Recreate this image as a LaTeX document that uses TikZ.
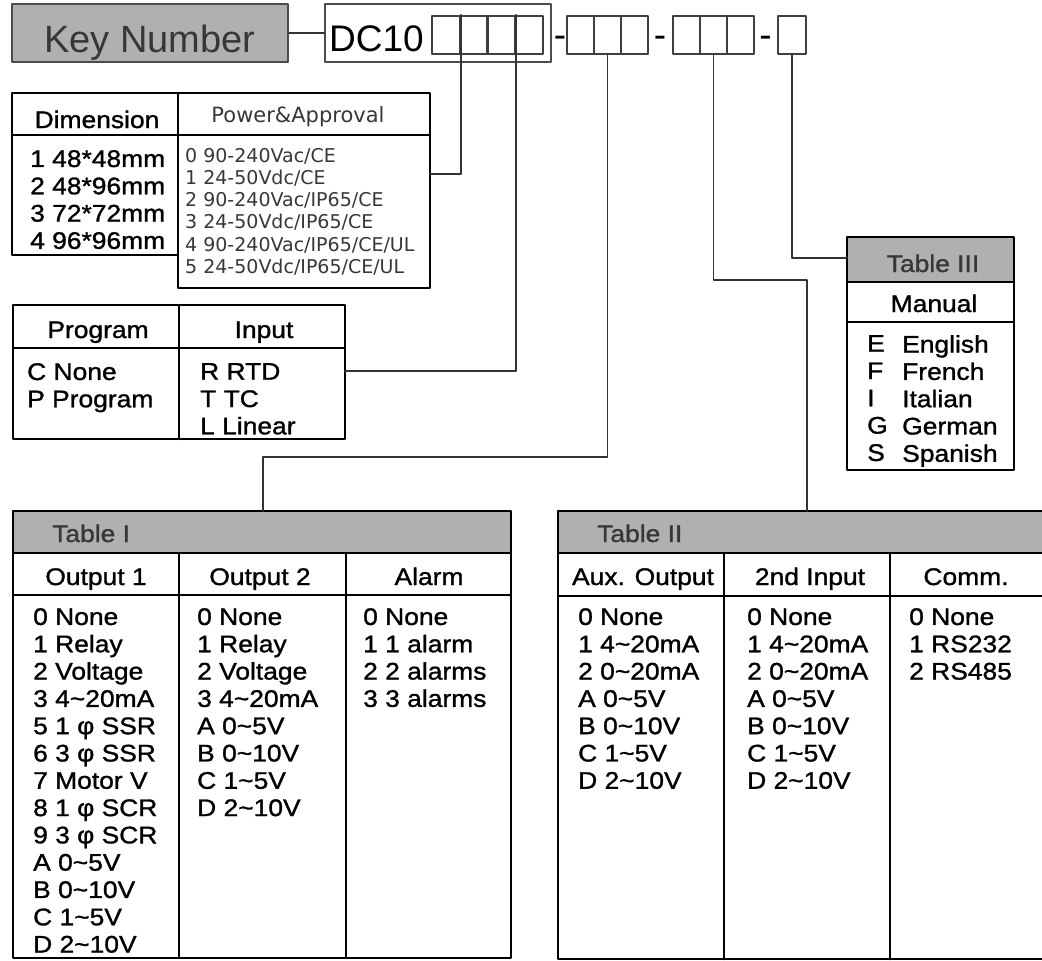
\documentclass[tikz,border=0pt]{standalone}
\usepackage{fontspec}
\setmainfont{Liberation Sans}
\newfontfamily\tabfont[FakeStretch=1.1, FakeBold=1.2]{Liberation Sans}
\newfontfamily\powfont{DejaVu Sans}
\newcommand{\tild}{\textasciitilde}
\definecolor{hdrgray}{RGB}{176,176,176}
\definecolor{inkgray}{RGB}{55,55,55}

\begin{document}
\begin{tikzpicture}[x=1pt, y=-1pt, line cap=round, line join=round,
		frame/.style={line width=2.6pt},
		rule/.style={line width=2pt},
		wire/.style={line width=1.8pt, draw=black!80},
		cell/.style={draw=black!75, line width=2.2pt, minimum width=27.5pt, minimum height=38pt, inner sep=0pt},
		hdr/.style={inner sep=0pt, anchor=base, font=\tabfont\fontsize{24}{27.3}\selectfont},
		items/.style={inner sep=0pt, anchor=north west, align=left, font=\tabfont\fontsize{24}{27.3}\selectfont},
		hyph/.style={inner sep=0pt, anchor=base, font=\fontsize{37}{40}\selectfont}]
		
		\path[use as bounding box] (0,0) rectangle (1042,961);
		\clip (0,0) rectangle (1042,961);
		
		% Key number line
		\node[draw=black!70, line width=2pt, fill=hdrgray, minimum width=276pt, minimum height=58pt, inner sep=0pt,
			text height=46pt, text=inkgray, font=\fontsize{38}{40}\selectfont] (key) at (150,33) {Key Number};
		\node[draw=black!70, line width=2pt, minimum width=226pt, minimum height=58pt, inner sep=0pt] (dc) at (438,33) {};
		\draw[rule, draw=black!80] (key.east) -- (dc.west);
		\node[inner sep=0pt, anchor=base west, font=\fontsize{37}{40}\selectfont] (dctxt) at (329,51) {DC10};
		
		% Code digit cells
		\node[cell, minimum width=27.75pt] (a1) at (445.9,35) {};
		\node[cell, minimum width=27.75pt] (a2) at (473.6,35) {};
		\node[cell, minimum width=27.75pt] (a3) at (501.4,35) {};
		\node[cell, minimum width=27.75pt] (a4) at (529.1,35) {};
		\node[hyph] (h1) at (560,47) {-};
		\node[cell, minimum width=27pt] (b1) at (580.5,35) {};
		\node[cell, minimum width=27pt] (b2) at (607.5,35) {};
		\node[cell, minimum width=27pt] (b3) at (634.5,35) {};
		\node[hyph] (h2) at (660,47) {-};
		\node[cell, minimum width=27pt] (c1) at (686.5,35) {};
		\node[cell, minimum width=27pt] (c2) at (713.5,35) {};
		\node[cell, minimum width=27pt] (c3) at (740.5,35) {};
		\node[hyph] (h3) at (765.5,47) {-};
		\node[cell, minimum width=27.5pt] (d1) at (792,35) {};
		
		% Dimension / Power&Approval
		\draw[frame] (12,93) rectangle (178,255);
		\draw[frame] (178,93) rectangle (430,288);
		\draw[rule] (12,135) -- (430,135);
		\node[hdr] (dimh) at (97,128) {Dimension};
		\node[inner sep=0pt, anchor=base, text=inkgray, font=\powfont\fontsize{21}{24}\selectfont] (powh) at (298,122) {Power\&Approval};
		\node[items] (dimi) at (30,150) {1 48*48mm\\2 48*96mm\\3 72*72mm\\4 96*96mm};
		\node[inner sep=0pt, anchor=north west, align=left, text=inkgray, font=\powfont\fontsize{19}{22.2}\selectfont] (powi) at (185,148)
			{0 90-240Vac/CE\\1 24-50Vdc/CE\\2 90-240Vac/IP65/CE\\3 24-50Vdc/IP65/CE\\4 90-240Vac/IP65/CE/UL\\5 24-50Vdc/IP65/CE/UL};
		
		% Program / Input
		\draw[frame] (13,305) rectangle (345,439);
		\draw[frame] (179,305) -- (179,439);
		\draw[rule] (13,348) -- (345,348);
		\node[hdr] (progh) at (98,338) {Program};
		\node[hdr] (inph) at (264,338) {Input};
		\node[items] (progi) at (27,363) {C None\\P Program};
		\node[items] (inpi) at (200,363) {R RTD\\T TC\\L Linear};
		
		% Table III
		\draw[frame, fill=hdrgray] (847,237) rectangle (1014,282);
		\draw[frame] (847,282) rectangle (1014,470);
		\draw[rule] (847,322) -- (1014,322);
		\node[hdr, text=inkgray] (t3h) at (933,272) {Table III};
		\node[hdr] (manh) at (934,312) {Manual};
		\node[items] (mank) at (867,335) {E\\F\\I\\G\\S};
		\node[items] (manv) at (902,335) {English\\French\\Italian\\German\\Spanish};
		
		% Table I
		\draw[frame, fill=hdrgray] (13,511) rectangle (511,553);
		\draw[frame] (13,553) rectangle (511,958);
		\draw[rule] (13,595) -- (511,595);
		\draw[frame] (179,553) -- (179,958);
		\draw[frame] (346,553) -- (346,958);
		\node[hdr, anchor=base west, text=inkgray] (t1h) at (52,542) {Table I};
		\node[hdr] (o1h) at (96,585) {Output 1};
		\node[hdr] (o2h) at (260,585) {Output 2};
		\node[hdr] (alh) at (429,585) {Alarm};
		\node[items] (o1i) at (33,608) {0 None\\1 Relay\\2 Voltage\\3 4\tild20mA\\5 1 φ SSR\\6 3 φ SSR\\7 Motor V\\8 1 φ SCR\\9 3 φ SCR\\A 0\tild5V\\B 0\tild10V\\C 1\tild5V\\D 2\tild10V};
		\node[items] (o2i) at (197,608) {0 None\\1 Relay\\2 Voltage\\3 4\tild20mA\\A 0\tild5V\\B 0\tild10V\\C 1\tild5V\\D 2\tild10V};
		\node[items] (ali) at (363,608) {0 None\\1 1 alarm\\2 2 alarms\\3 3 alarms};
		
		% Table II
		\draw[frame, fill=hdrgray] (558,511) rectangle (1060,553);
		\draw[frame] (558,553) rectangle (1060,959);
		\draw[rule] (558,596) -- (1060,596);
		\draw[frame] (724,553) -- (724,959);
		\draw[frame] (890,553) -- (890,959);
		\node[hdr, anchor=base west, text=inkgray] (t2h) at (597,542) {Table II};
		\node[hdr] (auxh) at (643,585) {Aux. Output};
		\node[hdr] (inh) at (810,585) {2nd Input};
		\node[hdr] (comh) at (966,585) {Comm.};
		\node[items] (auxi) at (578,608) {0 None\\1 4\tild20mA\\2 0\tild20mA\\A 0\tild5V\\B 0\tild10V\\C 1\tild5V\\D 2\tild10V};
		\node[items] (ini) at (747,608) {0 None\\1 4\tild20mA\\2 0\tild20mA\\A 0\tild5V\\B 0\tild10V\\C 1\tild5V\\D 2\tild10V};
		\node[items] (comi) at (909,608) {0 None\\1 RS232\\2 RS485};
		
		% Entry points and connectors
		\coordinate (powin) at (430,174);
		\coordinate (inpin) at (345,371);
		\coordinate (tabIin) at (263,511);
		\coordinate (tabIIin) at (807,511);
		\coordinate (tabIIIin) at (847,258);
		\draw[wire] (a1.north east) |- (powin);
		\draw[wire] (a3.north east) |- (inpin);
		\draw[wire] (b2.south) |- ([yshift=54pt]tabIin) -- (tabIin);
		\draw[wire] (c2.south) |- ([yshift=231pt]tabIIin) -- (tabIIin);
		\draw[wire] (d1.south) |- (tabIIIin);
		
	\end{tikzpicture}
\end{document}
